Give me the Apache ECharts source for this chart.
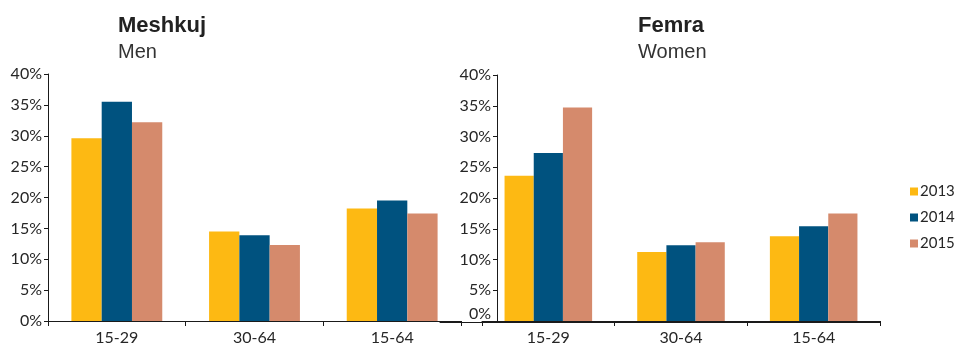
<!DOCTYPE html>
<html>
<head>
<meta charset="utf-8">
<script src="https://cdn.jsdelivr.net/npm/echarts@6/dist/echarts.min.js"></script>
<style>
  html, body { margin: 0; padding: 0; background: #fff; }
  #chart { width: 958px; height: 346px; }
</style>
</head>
<body>
<div id="chart"></div>
<script>
// Meshkuj / Femra - bar chart by age group
const categories = ['15-29', '30-64', '15-64'];
const years = ['2013', '2014', '2015'];

const men2013 = [29.6, 14.5, 18.2];
const men2014 = [35.5, 13.9, 19.5];
const men2015 = [32.2, 12.3, 17.4];

const women2013 = [23.6, 11.2, 13.8];
const women2014 = [27.3, 12.3, 15.4];
const women2015 = [34.7, 12.8, 17.5];

const yMin = 0, yMax = 40, yStep = 5;

const COLORS = ['#FDB913', '#00527F', '#D58A6C'];
const TXT = '#262626';
const AXIS = '#1a1a1a';
const LABEL_FONT = 'Lato, "Open Sans", sans-serif';
const HEAD_FONT = '"Liberation Sans", Arial, sans-serif';

const chart = echarts.init(document.getElementById('chart'));

const catAxis = (gridIndex) => ({
  type: 'category',
  gridIndex,
  data: categories,
  axisLine: { lineStyle: { color: AXIS, width: 1 } },
  axisTick: { show: true, length: 5, lineStyle: { color: AXIS } },
  axisLabel: { color: TXT, fontFamily: LABEL_FONT, fontSize: 16, margin: 9 },
  splitLine: { show: false }
});

const valAxis = (gridIndex, offset, liftZero) => ({
  type: 'value',
  gridIndex,
  min: yMin, max: yMax, interval: yStep,
  offset,
  axisLine: { show: true, lineStyle: { color: AXIS, width: 1 } },
  axisTick: { show: true, length: 4, lineStyle: { color: AXIS } },
  axisLabel: {
    color: TXT, fontFamily: LABEL_FONT, fontSize: 16, margin: 6,
    formatter: v => (liftZero && v === 0) ? '{z|0%}' : v + '%',
    rich: { z: { padding: [0, 0, 14, 0], color: TXT, fontFamily: LABEL_FONT, fontSize: 16 } }
  },
  splitLine: { show: false }
});

const bar = (name, data, idx, axisIdx) => ({
  name, type: 'bar',
  xAxisIndex: axisIdx, yAxisIndex: axisIdx,
  data,
  barGap: '0%',
  barCategoryGap: '34%',
  itemStyle: { color: COLORS[idx] },
  emphasis: { disabled: true }
});

const head = (text, left, top, bold) => ({
  text, left, top, padding: 0,
  textStyle: {
    fontFamily: HEAD_FONT,
    fontWeight: bold ? 'bold' : 'normal',
    fontSize: bold ? 22 : 20,
    color: bold ? '#222' : '#333'
  }
});

const option = {
  animation: false,
  backgroundColor: '#fff',
  title: [
    head('Meshkuj', 118, 15, true),
    head('Men', 118, 42, false),
    head('Femra', 638, 15, true),
    head('Women', 638, 42, false)
  ],
  legend: {
    data: years,
    orient: 'vertical',
    left: 905, top: 179,
    itemWidth: 8, itemHeight: 8, itemGap: 11,
    icon: 'rect',
    textStyle: { color: TXT, fontFamily: LABEL_FONT, fontSize: 15, padding: [0, 0, 0, -3] }
  },
  grid: [
    { left: 48, right: 958 - 461, top: 74, bottom: 24 },
    { left: 482, right: 958 - 880, top: 75, bottom: 24 },
    { left: 440, right: 958 - 880, top: 75, bottom: 24 }
  ],
  xAxis: [
    catAxis(0),
    catAxis(1),
    { type: 'value', gridIndex: 2, min: 0, max: 1,
      axisLine: { show: true, onZero: false, lineStyle: { color: AXIS, width: 1 } },
      axisTick: { show: false }, axisLabel: { show: false }, splitLine: { show: false } }
  ],
  yAxis: [
    valAxis(0, 0, false),
    valAxis(1, -15, true),
    { type: 'value', gridIndex: 2, show: false, min: 0, max: 1 }
  ],
  series: [
    bar('2013', men2013, 0, 0),
    bar('2014', men2014, 1, 0),
    bar('2015', men2015, 2, 0),
    bar('2013', women2013, 0, 1),
    bar('2014', women2014, 1, 1),
    bar('2015', women2015, 2, 1)
  ]
};

chart.setOption(option);
</script>
</body>
</html>
